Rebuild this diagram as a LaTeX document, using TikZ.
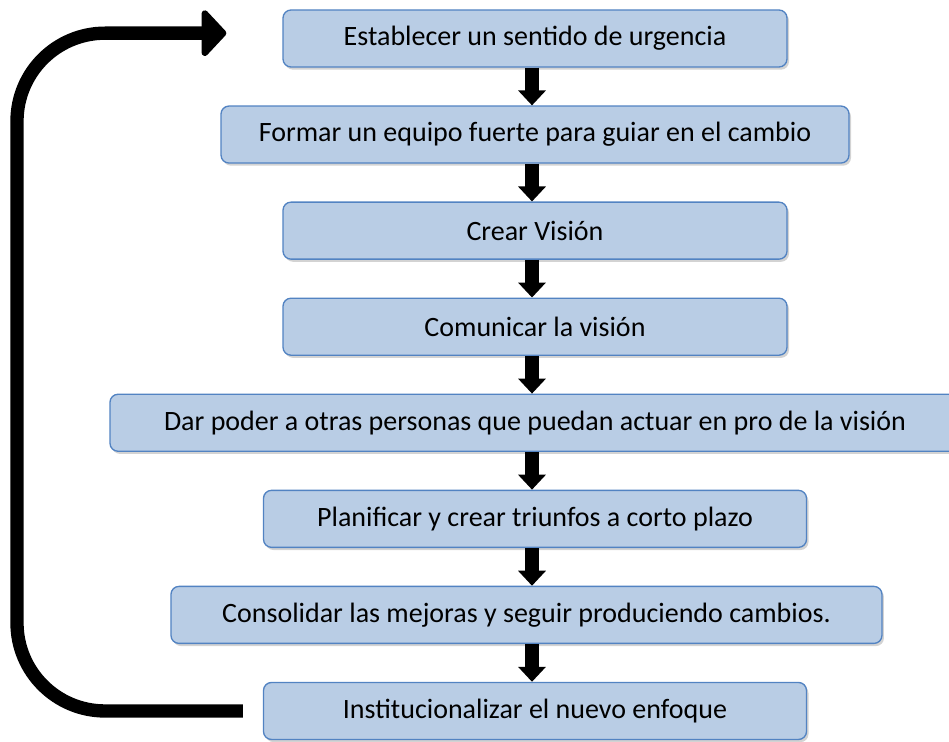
\documentclass[tikz,border=0pt]{standalone}
\usepackage{fontspec}
\setmainfont{Carlito}
\usepackage{xcolor}
\usepackage{tikz}
\usetikzlibrary{positioning,shadows,arrows.meta}
\definecolor{boxfill}{HTML}{B9CDE5}
\definecolor{boxline}{HTML}{5283C2}

\begin{document}
\begin{tikzpicture}[x=0.75pt,y=-0.75pt,
            node distance = 28.3pt,
            stepbox/.style = {draw=boxline, fill=boxfill, rounded corners=6pt, line width=1pt,
                minimum height=42.75pt, font=\fontsize{21}{24}\selectfont,
                drop shadow={shadow xshift=1.5pt, shadow yshift=-2pt, opacity=0.35}},
            downarrow/.style = {line width=10.5pt, -{Triangle[width=20.25pt,length=11.25pt]}},
            looparrow/.style = {line width=10pt, rounded corners=66pt, -{Triangle[width=40.5pt,length=19.5pt,round]}}]
            \useasboundingbox (0,0) rectangle (949,742);
            \node (b1) [stepbox, minimum width=378pt] at (535,38.5) {Establecer un sentido de urgencia};
            \node (b2) [stepbox, minimum width=471pt, below=of b1] {Formar un equipo fuerte para guiar en el cambio};
            \node (b3) [stepbox, minimum width=378pt, below=of b2] {Crear Visión};
            \node (b4) [stepbox, minimum width=378pt, below=of b3] {Comunicar la visión};
            \node (b5) [stepbox, minimum width=637.5pt, below=of b4] {Dar poder a otras personas que puedan actuar en pro de la visión};
            \node (b6) [stepbox, minimum width=407.25pt, below=of b5] {Planificar y crear triunfos a corto plazo};
            \node (b7) [stepbox, minimum width=533.25pt, below=of b6, xshift=-6.4pt] {Consolidar las mejoras y seguir produciendo cambios.};
            \node (b8) [stepbox, minimum width=407.25pt, below=of b7, xshift=6.4pt] {Institucionalizar el nuevo enfoque};
            % arrows between the steps
            \coordinate (arrowx) at (532,0);
            \foreach \a/\b in {b1/b2, b2/b3, b3/b4, b4/b5, b5/b6, b6/b7, b7/b8}
                \draw[downarrow] (\a.south -| arrowx) -- (\b.north -| arrowx);
            % return loop
            \coordinate (loopstart) at ([xshift=-15pt]b8.west);
            \coordinate (looptip) at ([xshift=-42pt,yshift=4pt]b1.west);
            \coordinate (loopleft) at (17,0);
            \draw[looparrow] (loopstart) -- (loopstart -| loopleft) -- (looptip -| loopleft) -- (looptip);
\end{tikzpicture}
\end{document}
